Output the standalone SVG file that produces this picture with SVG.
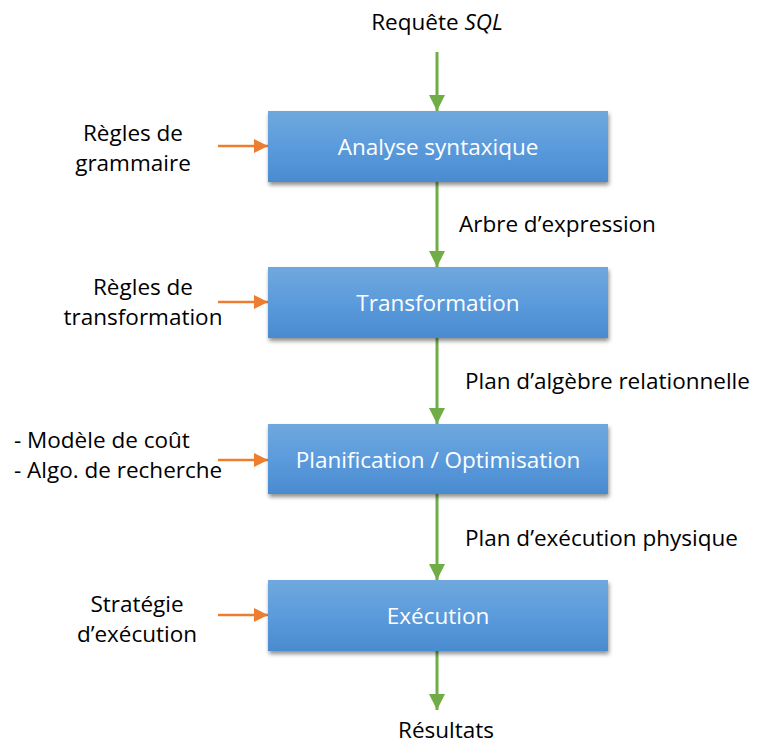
<svg xmlns="http://www.w3.org/2000/svg" width="757" height="744" viewBox="0 0 757 744">
<defs>
<linearGradient id="bg" x1="0" y1="0" x2="0" y2="1">
<stop offset="0" stop-color="#6fa8dd"/>
<stop offset="0.5" stop-color="#5b9bdc"/>
<stop offset="1" stop-color="#4a8bcf"/>
</linearGradient>
<filter id="sh" x="-10%" y="-20%" width="120%" height="150%">
<feGaussianBlur in="SourceAlpha" stdDeviation="2"/>
<feOffset dx="1" dy="3"/>
<feComponentTransfer><feFuncA type="linear" slope="0.45"/></feComponentTransfer>
<feMerge><feMergeNode/><feMergeNode in="SourceGraphic"/></feMerge>
</filter>
<marker id="ag" markerWidth="16" markerHeight="16" viewBox="0 0 16 16" refX="16" refY="8" orient="auto" markerUnits="userSpaceOnUse">
<path d="M0,0 L16,8 L0,16 Z" fill="#70ad47"/>
</marker>
<marker id="ao" markerWidth="14" markerHeight="14" viewBox="0 0 14 14" refX="14" refY="7" orient="auto" markerUnits="userSpaceOnUse">
<path d="M0,0 L14,7 L0,14 Z" fill="#ed7d31"/>
</marker>
</defs>
<style>
.box{fill:url(#bg);filter:url(#sh)}
.bt{font-family:"Open Sans","Liberation Sans",sans-serif;font-size:22.5px;fill:#ffffff;text-anchor:middle}
.t{font-family:"Open Sans","Liberation Sans",sans-serif;font-size:22.5px;fill:#000000}
.c{text-anchor:middle}
.g{stroke:#70ad47;stroke-width:3;fill:none;marker-end:url(#ag)}
.o{stroke:#ed7d31;stroke-width:2.5;fill:none;marker-end:url(#ao)}
</style>
<rect width="757" height="744" fill="#ffffff"/>
<g id="connectors">
<line class="g" x1="437" y1="52" x2="437" y2="111"/>
<line class="g" x1="437" y1="182" x2="437" y2="267"/>
<line class="g" x1="437" y1="338" x2="437" y2="424"/>
<line class="g" x1="437" y1="494" x2="437" y2="580"/>
<line class="g" x1="437" y1="651" x2="437" y2="710"/>
<line class="o" x1="218" y1="146" x2="268" y2="146"/>
<line class="o" x1="218" y1="302" x2="268" y2="302"/>
<line class="o" x1="218" y1="460" x2="268" y2="460"/>
<line class="o" x1="218" y1="615" x2="268" y2="615"/>
</g>
<g id="n1"><rect class="box" x="268" y="111" width="340" height="71"/><text class="bt" x="438" y="155">Analyse syntaxique</text></g>
<g id="n2"><rect class="box" x="268" y="267" width="340" height="71"/><text class="bt" x="438" y="311">Transformation</text></g>
<g id="n3"><rect class="box" x="268" y="424" width="340" height="70"/><text class="bt" x="438" y="468">Planification / Optimisation</text></g>
<g id="n4"><rect class="box" x="268" y="580" width="340" height="71"/><text class="bt" x="438" y="624">Exécution</text></g>
<g id="labels">
<text class="t c" x="437" y="30">Requête <tspan font-style="italic">SQL</tspan></text>
<text class="t c" x="446" y="738">Résultats</text>
<text class="t" x="459" y="232">Arbre d’expression</text>
<text class="t" x="465" y="389">Plan d’algèbre relationnelle</text>
<text class="t" x="465" y="546">Plan d’exécution physique</text>
<text class="t c" x="133" y="141">Règles de</text>
<text class="t c" x="133" y="171">grammaire</text>
<text class="t c" x="143" y="295">Règles de</text>
<text class="t c" x="143" y="325">transformation</text>
<text class="t" x="14" y="448">- Modèle de coût</text>
<text class="t" x="14" y="478">- Algo. de recherche</text>
<text class="t c" x="137" y="612">Stratégie</text>
<text class="t c" x="137" y="642">d’exécution</text>
</g>
</svg>
